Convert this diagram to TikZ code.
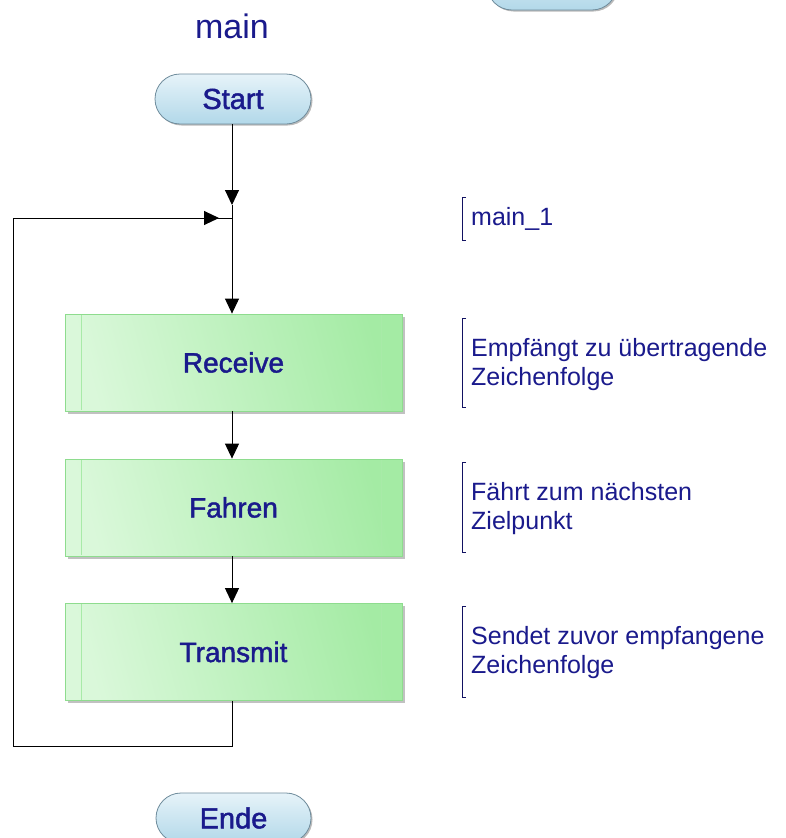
\documentclass[tikz,border=0pt]{standalone}
\usepackage{fontspec}
\setmainfont{Liberation Sans}
\newfontfamily\labelfont{Liberation Sans}[FakeBold=1.6]
\usetikzlibrary{arrows.meta,shadows}
\definecolor{txtblue}{HTML}{1A1A8C}
\definecolor{termtop}{HTML}{E6F3F9}
\definecolor{termbot}{HTML}{B2D8E9}
\definecolor{termline}{HTML}{6F8C9C}
\definecolor{boxlight}{HTML}{DAF8DA}
\definecolor{boxdark}{HTML}{A4EBA4}
\definecolor{boxline}{HTML}{8EDC8E}
\definecolor{innerline}{HTML}{A8EAA8}
\tikzset{
  terminal/.style={draw=termline, line width=0.8pt, rounded corners=25pt,
    top color=termtop, bottom color=termbot,
    minimum width=156pt, minimum height=50pt, inner sep=0pt,
    text=txtblue, font=\labelfont\fontsize{29}{32}\selectfont,
    drop shadow={shadow xshift=1.5pt, shadow yshift=-1.5pt, opacity=0.45, fill=black!60}},
  process/.style={draw=boxline, line width=0.8pt,
    left color=boxlight, right color=boxdark, shading angle=105,
    minimum width=337pt, minimum height=97pt, inner sep=0pt,
    text=txtblue, font=\labelfont\fontsize{28}{32}\selectfont,
    drop shadow={shadow xshift=2.5pt, shadow yshift=-2.5pt, opacity=0.4, fill=black!60}},
  note/.style={anchor=west, align=left, text=txtblue, inner sep=0pt,
    font=\fontsize{25}{29}\selectfont},
  bracket/.style={draw=txtblue!70!black, line width=1pt},
  flow/.style={draw=black, line width=1pt},
  arrowline/.style={flow, -{Triangle[length=15pt,width=14pt]}},
  innerrule/.style={draw=innerline, line width=1.2pt}
}
\begin{document}
\begin{tikzpicture}[x=1pt,y=-1pt]
\clip (0,0) rectangle (785,838);
\fill[white] (0,0) rectangle (785,838);

% title
\node[text=txtblue, font=\fontsize{34}{38}\selectfont] (title) at (232,26) {main};

% terminals
\node[terminal] (start) at (233,99) {Start};
\node[terminal, minimum width=130pt] (prev) at (552,-15) {};
\node[terminal, minimum width=155pt] (ende) at (233.5,818) {Ende};

% process boxes
\node[process] (recv) at (233.5,362.5) {Receive};
\node[process] (fahr) at (233.5,507.5) {Fahren};
\node[process] (tran) at (233.5,652) {Transmit};
\foreach \b in {recv,fahr,tran}{
  \draw[innerrule] ([xshift=17pt,yshift=-1pt]\b.north west) -- ([xshift=17pt,yshift=1pt]\b.south west);
  \draw[innerrule] ([xshift=-21pt,yshift=-1pt]\b.north east) -- ([xshift=-21pt,yshift=1pt]\b.south east);
}

% loop junction and corners
\coordinate (join) at (232,218);
\coordinate (downtip) at (232,205);
\coordinate (lefttip) at (219,218);
\coordinate (loopbot) at (232,746);
\coordinate (loopbl) at (13,746);
\coordinate (looptl) at (13,218);

% connectors
\draw[arrowline] (start.south -| join) -- (downtip);
\draw[flow] (downtip) -- (join);
\draw[arrowline] (join) -- (recv.north -| join);
\draw[arrowline] (recv.south -| join) -- (fahr.north -| join);
\draw[arrowline] (fahr.south -| join) -- (tran.north -| join);
\draw[flow] (tran.south -| join) -- (loopbot) -- (loopbl) -- (looptl) -- (lefttip);
\draw[arrowline] (looptl) -- (lefttip);
\draw[flow] (lefttip) -- (join);

% annotations with brackets
\draw[bracket] (466,197) -- (462,197) -- (462,240) -- (466,240);
\node[note] (n0) at (471,219) {main\_1};

\draw[bracket] (466,318) -- (462,318) -- (462,407) -- (466,407);
\node[note] (n1) at (471,365) {Empfängt zu übertragende\\Zeichenfolge};

\draw[bracket] (466,462) -- (462,462) -- (462,552) -- (466,552);
\node[note] (n2) at (471,509) {Fährt zum nächsten\\Zielpunkt};

\draw[bracket] (466,606) -- (462,606) -- (462,697) -- (466,697);
\node[note] (n3) at (471,653) {Sendet zuvor empfangene\\Zeichenfolge};
\end{tikzpicture}
\end{document}
